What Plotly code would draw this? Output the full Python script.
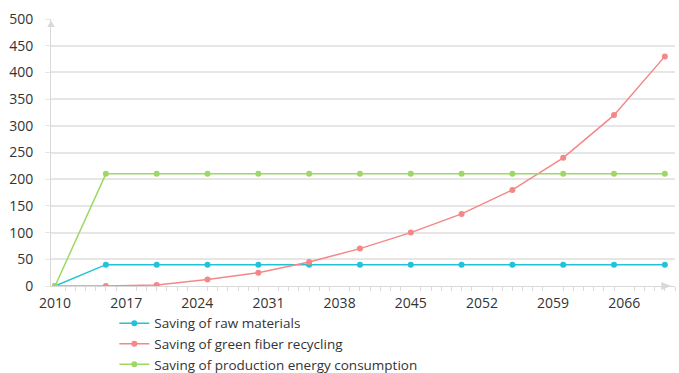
import plotly.graph_objects as go

years = [2010, 2015, 2020, 2025, 2030, 2035, 2040, 2045, 2050, 2055, 2060, 2065, 2070]
raw_materials = [0, 40, 40, 40, 40, 40, 40, 40, 40, 40, 40, 40, 40]
green_fiber = [0, 0, 2, 12, 25, 45, 70, 100, 135, 180, 240, 320, 430]
energy = [0, 210, 210, 210, 210, 210, 210, 210, 210, 210, 210, 210, 210]
series_names = ["Saving of raw materials", "Saving of green fiber recycling",
                "Saving of production energy consumption"]
colors = ["#22c3d6", "#f58787", "#9dd865"]

fig = go.Figure()
for name, vals, c in zip(series_names, [raw_materials, green_fiber, energy], colors):
    fig.add_trace(go.Scatter(x=years, y=vals, name=name, mode="lines+markers",
                             line=dict(color=c, width=1.5),
                             marker=dict(color=c, size=6)))

font = "Open Sans, Noto Sans, sans-serif"
fig.update_layout(
    width=679, height=373,
    margin=dict(l=51, r=4, t=19, b=87, autoexpand=False),
    paper_bgcolor="white", plot_bgcolor="white",
    font=dict(family=font, size=14, color="#333333"),
    showlegend=True,
    legend=dict(x=0.1015, y=-0.082, xanchor="left", yanchor="top",
                font=dict(size=13.5, color="#333333"), tracegroupgap=0,
                itemwidth=30, bgcolor="rgba(0,0,0,0)"),
    xaxis=dict(range=[2009.6, 2071], tick0=2010, dtick=7, showgrid=False,
               showline=True, linecolor="#d9d9d9", linewidth=1,
               ticks="outside", ticklen=0, tickcolor="#d9d9d9", ticklabelstandoff=4,
               minor=dict(dtick=1, ticks="outside", ticklen=4, tickcolor="#d9d9d9"),
               zeroline=False, tickfont=dict(size=14, color="#333333")),
    yaxis=dict(range=[0, 500], dtick=50, showgrid=True, gridcolor="#e6e6e6",
               gridwidth=1.5, showline=True, linecolor="#d9d9d9", zeroline=False,
               ticks="outside", ticklen=5, tickcolor="#e6e6e6",
               ticklabelstandoff=9, tickfont=dict(size=14, color="#333333")),
)
# axis arrow heads (decoration)
fig.add_shape(type="path", xref="paper", yref="paper",
              path="M -0.006 0.97 L 0.006 0.97 L 0 0.995 Z",
              fillcolor="#d9d9d9", line=dict(width=0))
fig.add_shape(type="path", xref="paper", yref="paper",
              path="M 0.978 0.015 L 0.978 -0.015 L 0.994 0 Z",
              fillcolor="#d9d9d9", line=dict(width=0))

fig.write_html("out.html")
